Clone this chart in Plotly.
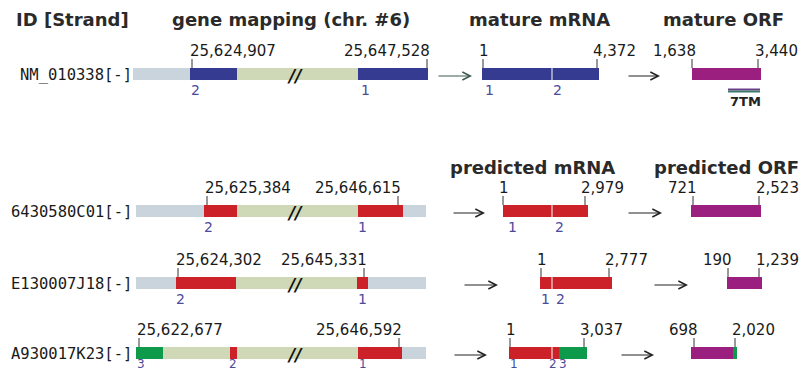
import plotly.graph_objects as go

# ---------------- data ----------------
ids = ["NM_010338[-]", "6430580C01[-]", "E130007J18[-]", "A930017K23[-]"]
track_y = [74, 211, 283, 353]

headers_top = ["ID [Strand]", "gene mapping (chr. #6)", "mature mRNA", "mature ORF"]
headers_mid = ["predicted mRNA", "predicted ORF"]

# gene-mapping schematic segments per row: (start, end, kind)
gene_segments = [
    [(133, 190, "flank"), (190, 237, "blue"), (237, 358, "intron"), (358, 428, "blue")],
    [(136, 204, "flank"), (204, 237, "red"), (237, 358, "intron"), (358, 403, "red"), (403, 426, "flank")],
    [(136, 176, "flank"), (176, 236, "red"), (236, 357, "intron"), (357, 368, "red"), (368, 426, "flank")],
    [(136, 163, "green"), (163, 230, "intron"), (230, 237, "red"), (237, 358, "intron"), (358, 402, "red"), (402, 426, "flank")],
]
gene_left_label = ["25,624,907", "25,625,384", "25,624,302", "25,622,677"]
gene_right_label = ["25,647,528", "25,646,615", "25,645,331", "25,646,592"]
gene_left_tick = [192, 207, 178, 139]
gene_right_tick = [427, 398, 364, 399]
gene_exon_numbers = [
    [("2", 195), ("1", 365)],
    [("2", 208), ("1", 362)],
    [("2", 180), ("1", 362)],
    [("3", 141), ("2", 233), ("1", 363)],
]

mrna_segments = [
    [(482, 551.5, "blue"), (552.5, 599, "blue")],
    [(503, 551.5, "red"), (552.5, 588, "red")],
    [(540, 551.5, "red"), (552.5, 612, "red")],
    [(509, 551.5, "red"), (552.5, 559, "red"), (559, 587, "green")],
]
mrna_end_label = ["4,372", "2,979", "2,777", "3,037"]
mrna_left_tick = [483, 503, 541, 510]
mrna_right_tick = [597, 585, 609, 584]
mrna_exon_numbers = [
    [("1", 489), ("2", 557)],
    [("1", 512), ("2", 559)],
    [("1", 545), ("2", 560)],
    [("1", 514), ("2", 553), ("3", 563)],
]

orf_segments = [
    [(692, 761, "orf")],
    [(691, 761, "orf")],
    [(727, 762, "orf")],
    [(691, 733, "orf"), (733, 737, "green")],
]
orf_start_label = ["1,638", "721", "190", "698"]
orf_end_label = ["3,440", "2,523", "1,239", "2,020"]
orf_left_tick = [692, 693, 728, 694]
orf_right_tick = [758, 759, 759, 735]

arrow1 = [(437, 472), (452, 485), (463, 498), (453, 487)]
arrow2 = [(627, 660), (627, 662), (653, 688), (620, 654)]

colors = {
    "flank": "#c9d4dc",
    "intron": "#cfd9b7",
    "blue": "#353b90",
    "red": "#cc2128",
    "green": "#0d9a4a",
    "orf": "#9b1f7e",
}
num_color = "#4b4b9c"
txt_color = "#1a1a1a"

# the page body has an 8px default margin; offset the axes so the picture lines up
PAGE_OFF = 8

# ---------------- figure ----------------
fig = go.Figure()

groups = {}
for segs_list in (gene_segments, mrna_segments, orf_segments):
    for row, segs in enumerate(segs_list):
        for s, e, kind in segs:
            g = groups.setdefault(kind, {"y": [], "x": [], "base": []})
            g["y"].append(track_y[row])
            g["x"].append(e - s)
            g["base"].append(s)
for kind, g in groups.items():
    fig.add_trace(go.Bar(orientation="h", y=g["y"], x=g["x"], base=g["base"],
                         width=12, marker=dict(color=colors[kind], line=dict(width=0)),
                         hoverinfo="skip", showlegend=False))

# ticks
tx, ty = [], []
for row in range(4):
    top = track_y[row] - 6
    for t in (gene_left_tick[row], gene_right_tick[row], mrna_left_tick[row],
              mrna_right_tick[row], orf_left_tick[row], orf_right_tick[row]):
        tx += [t, t, None]
        ty += [top - 9, top, None]
fig.add_trace(go.Scatter(x=tx, y=ty, mode="lines", line=dict(color="#333333", width=1),
                         hoverinfo="skip", showlegend=False))

# 7TM bar
fig.add_trace(go.Scatter(x=[728, 760], y=[89.5, 89.5], mode="lines",
                         line=dict(color="#6a3f8a", width=2), hoverinfo="skip", showlegend=False))
fig.add_trace(go.Scatter(x=[728, 760], y=[91.5, 91.5], mode="lines",
                         line=dict(color="#3d7a6a", width=2), hoverinfo="skip", showlegend=False))

ann = []
def txt(x, y, s, size=15, anchor="center", color=txt_color, family="DejaVu Sans"):
    ann.append(dict(x=x, y=y, text=s, showarrow=False, xanchor=anchor, yanchor="middle",
                    font=dict(size=size, color=color, family=family), borderpad=0))

hfont = "DejaVu Sans"
hcol = "#2a2a2a"
txt(15, 19, "<b>" + headers_top[0] + "</b>", 18, "left", hcol, hfont)
txt(291, 19, "<b>" + headers_top[1] + "</b>", 18, "center", hcol, hfont)
txt(539, 19, "<b>" + headers_top[2] + "</b>", 18, "center", hcol, hfont)
txt(723, 19, "<b>" + headers_top[3] + "</b>", 18, "center", hcol, hfont)
txt(532, 167, "<b>" + headers_mid[0] + "</b>", 18, "center", hcol, hfont)
txt(726, 167, "<b>" + headers_mid[1] + "</b>", 18, "center", hcol, hfont)

for row in range(4):
    y = track_y[row]
    ly = y - 23
    last = row == 3
    ny = y + 11 if last else y + 16
    nsize = 12 if last else 14
    txt(133, y + 1, ids[row], 15.5, "right", txt_color, "DejaVu Sans Mono")
    # gene labels
    txt(gene_left_tick[row] - 3, ly, gene_left_label[row], 15, "left")
    txt(gene_right_tick[row] + 4, ly, gene_right_label[row], 15, "right")
    txt(295, y + 2, "<b><i>//</i></b>", 17, "center", "#111")
    for n, x in gene_exon_numbers[row]:
        txt(x, ny, n, nsize, "center", num_color)
    # mRNA
    txt(mrna_left_tick[row] + 1, ly, "1", 15, "center")
    txt(mrna_right_tick[row] - 5, ly, mrna_end_label[row], 15, "left")
    for n, x in mrna_exon_numbers[row]:
        txt(x, ny, n, nsize, "center", num_color)
    # ORF
    txt(orf_left_tick[row] + 5, ly, orf_start_label[row], 15, "right")
    txt(orf_right_tick[row] - 4, ly, orf_end_label[row], 15, "left")
    # arrows
    for (a0, a1), col in ((arrow1[row], "#3d5a52" if row == 0 else "#222"), (arrow2[row], "#222")):
        ann.append(dict(x=a1, y=y + 2, ax=a0, ay=y + 2, axref="x", ayref="y", xref="x", yref="y",
                        text="", showarrow=True, arrowhead=5, arrowsize=1.3, arrowwidth=1.2,
                        arrowcolor=col, standoff=0))

txt(745, 101, "<b>7TM</b>", 13, "center", "#222")

fig.update_layout(
    width=808, height=371, margin=dict(l=0, r=0, t=0, b=0),
    paper_bgcolor="white", plot_bgcolor="white", barmode="overlay",
    xaxis=dict(range=[PAGE_OFF, 808 + PAGE_OFF], visible=False, fixedrange=True),
    yaxis=dict(range=[371 + PAGE_OFF, PAGE_OFF], visible=False, fixedrange=True),
    annotations=ann, showlegend=False,
)
fig.write_html("out.html")
